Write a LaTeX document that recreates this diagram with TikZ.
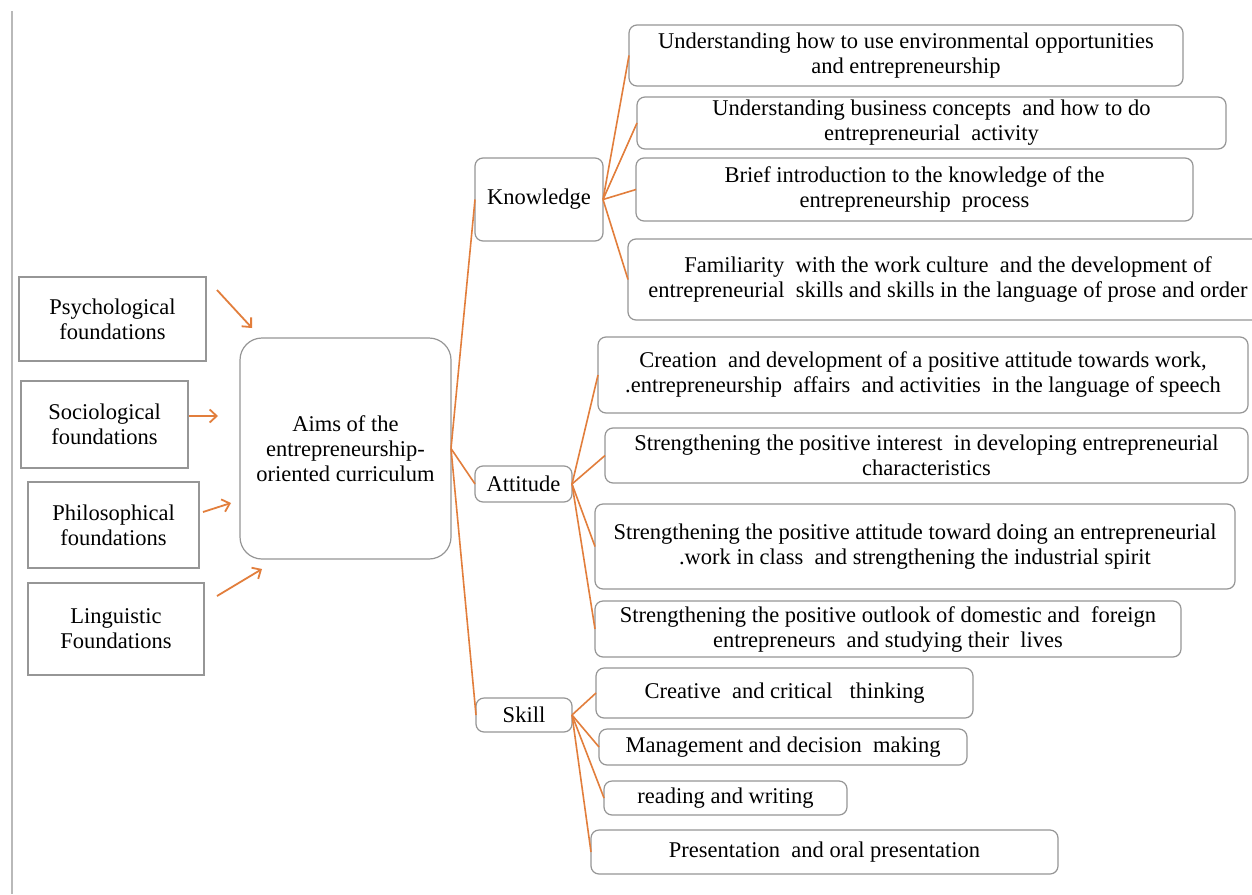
\documentclass[tikz,border=0pt]{standalone}
\usepackage{fontspec}
\setmainfont{Liberation Serif}
\usetikzlibrary{arrows.meta}
\definecolor{conn}{RGB}{226,126,60}
\definecolor{boxline}{RGB}{150,150,150}
\definecolor{sideline}{RGB}{185,185,185}
\begin{document}
\begin{tikzpicture}[x=1pt,y=-1pt,
  every node/.style={font=\fontsize{22.5}{25}\selectfont, align=center, inner sep=0pt, outer sep=0pt},
  sz/.style 2 args={minimum width=#1pt, minimum height=#2pt},
  sqbox/.style={draw=boxline, line width=1.2pt},
  rbox/.style={draw=boxline, line width=1.2pt, rounded corners=8pt},
  bigbox/.style={draw=boxline, line width=1.2pt, rounded corners=22pt},
  branch/.style={draw=conn, line width=1.6pt},
  feed/.style={draw=conn, line width=1.8pt, -{Straight Barb[length=7pt,width=13pt]}},
]
\useasboundingbox (0,0) rectangle (1252,894);
\clip (0,0) rectangle (1252,894);
\fill[white] (0,0) rectangle (1252,894);

% left margin rule
\coordinate (ruletop) at (12,11);
\coordinate (rulebot) at (12,894);
\draw[sideline, line width=1.5pt] (ruletop) -- (rulebot);

% foundations
\node[sqbox, sz={187}{84}] (psy) at (112.5,319) {Psychological\\foundations};
\node[sqbox, sz={167}{87}] (soc) at (104.5,424.5) {Sociological\\foundations};
\node[sqbox, sz={171}{86}] (phi) at (113.5,525) {Philosophical\\foundations};
\node[sqbox, sz={176}{92}] (lin) at (116,629) {Linguistic\\Foundations};

% central aim
\node[bigbox, sz={211}{221}] (aims) at (345.5,448.5) {Aims of the\\entrepreneurship-\\oriented curriculum};

% arrows into the aim
\coordinate (psyA) at (217,290); \coordinate (psyB) at (252,328);
\coordinate (socA) at (189,416); \coordinate (socB) at (218,416);
\coordinate (phiA) at (203,512); \coordinate (phiB) at (231,503);
\coordinate (linA) at (217,596); \coordinate (linB) at (262,569);
\draw[feed] (psyA) -- (psyB);
\draw[feed] (socA) -- (socB);
\draw[feed] (phiA) -- (phiB);
\draw[feed] (linA) -- (linB);

% domains
\node[rbox, sz={128}{83}] (know) at (539,199.5) {Knowledge};
\node[rbox, sz={97}{36}] (att) at (523.5,484) {Attitude};
\node[rbox, sz={96}{34}] (skill) at (524,715) {Skill};

% knowledge items
\node[rbox, sz={554}{61}] (k1) at (906,55.5) {Understanding how to use environmental opportunities\\and entrepreneurship};
\node[rbox, sz={589}{52}] (k2) at (931.5,123) {Understanding business concepts\ \ and how to do\\entrepreneurial\ \ activity};
\node[rbox, sz={557}{63}] (k3) at (914.5,189.5) {Brief introduction to the knowledge of the\\entrepreneurship\ \ process};
\node[rbox, sz={640}{81}] (k4) at (948,279.5) {Familiarity\ \ with the work culture\ \ and the development of\\entrepreneurial\ \ skills and skills in the language of prose and order};

% attitude items
\node[rbox, sz={650}{76}] (a1) at (923,375) {Creation\ \ and development of a positive attitude towards work,\\.entrepreneurship\ \ affairs\ \ and activities\ \ in the language of speech};
\node[rbox, sz={643}{55}] (a2) at (926.5,455.5) {Strengthening the positive interest\ \ in developing entrepreneurial\\characteristics};
\node[rbox, sz={640}{85}] (a3) at (915,546.5) {Strengthening the positive attitude toward doing an entrepreneurial\\.work in class\ \ and strengthening the industrial spirit};
\node[rbox, sz={586}{56}] (a4) at (888,629) {Strengthening the positive outlook of domestic and\ \ foreign\\entrepreneurs\ \ and studying their\ \ lives};

% skill items
\node[rbox, sz={377}{50}] (s1) at (784.5,693) {Creative\ \ and critical\ \ \ thinking};
\node[rbox, sz={368}{36}] (s2) at (783,747) {Management and decision\ \ making};
\node[rbox, sz={243}{34}] (s3) at (725.5,798) {reading and writing};
\node[rbox, sz={467}{44}] (s4) at (824.5,852) {Presentation\ \ and oral presentation};

% tree connectors
\draw[branch] (aims.east) -- (know.west);
\draw[branch] (aims.east) -- (att.west);
\draw[branch] (aims.east) -- (skill.west);
\foreach \t in {k1,k2,k3,k4} \draw[branch] (know.east) -- (\t.west);
\foreach \t in {a1,a2,a3,a4} \draw[branch] (att.east) -- (\t.west);
\foreach \t in {s1,s2,s3,s4} \draw[branch] (skill.east) -- (\t.west);
\end{tikzpicture}
\end{document}
